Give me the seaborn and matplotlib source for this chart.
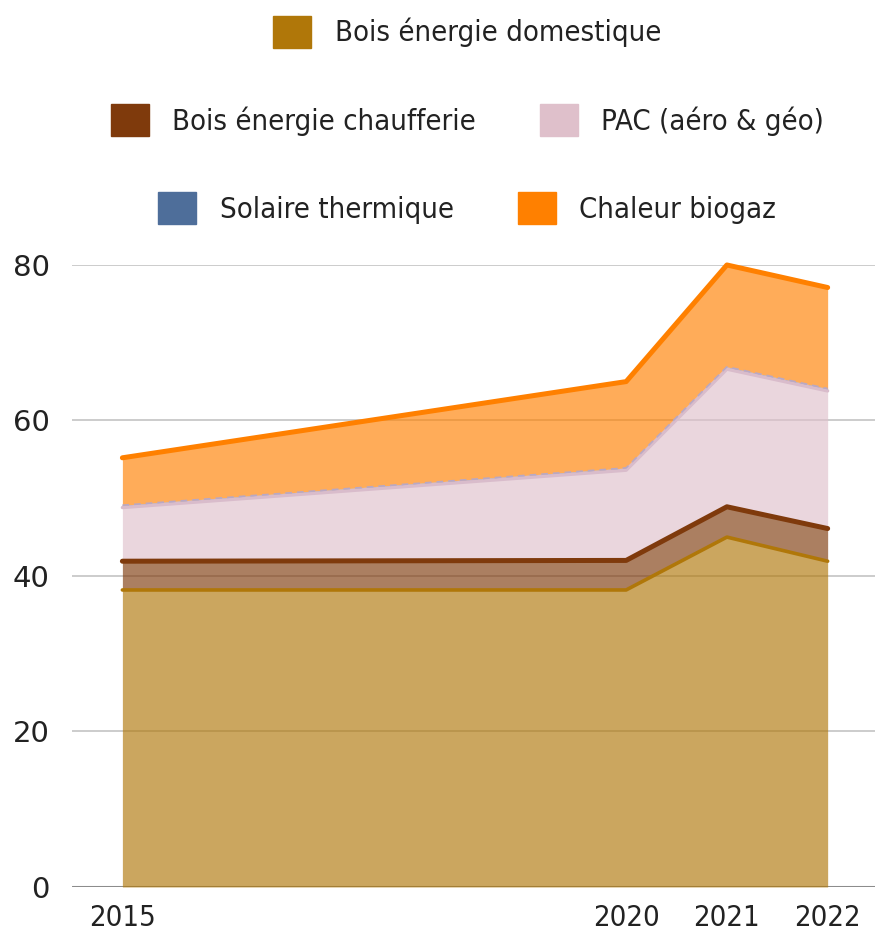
import matplotlib
matplotlib.use("Agg")
import matplotlib.pyplot as plt
from matplotlib.patches import Patch
import seaborn as sns
import pandas as pd
import numpy as np

# données (GWh)
annees = [2015, 2020, 2021, 2022]
domestique = [38.2, 38.2, 45.0, 41.9]
chaufferie = [3.7, 3.8, 3.9, 4.2]
pac = [6.9, 11.6, 17.7, 17.7]
solaire = [0.3, 0.3, 0.3, 0.3]
biogaz = [6.1, 11.1, 13.1, 13.0]

series = ["Bois énergie domestique", "Bois énergie chaufferie", "PAC (aéro & géo)",
          "Solaire thermique", "Chaleur biogaz"]
couleurs = ["#b07709", "#7f3a0c", "#dfc0cb", "#4e6e9a", "#ff8000"]
lignes = ["#b07709", "#7f3a0c", "#d9bccb", "#b9a8c4", "#ff8000"]
epaisseurs = [2.6, 3.6, 2.4, 1.2, 3.6]

sns.set_theme(style="white")
plt.rcParams['font.family'] = ['DejaVu Sans']
plt.rcParams['font.stretch'] = 'condensed'

df = pd.DataFrame({"annee": annees, series[0]: domestique, series[1]: chaufferie,
                   series[2]: pac, series[3]: solaire, series[4]: biogaz})
cumul = df[series].cumsum(axis=1)

fig = plt.figure(figsize=(8.75, 9.32), dpi=100)
ax = fig.add_axes([0.0823, 0.0483, 0.9177, 0.6674])

# grille
for y in [20, 40, 60, 80]:
    ax.axhline(y, color="#c8c8c8", lw=1.3, zorder=0)
ax.axhline(0, color="#8c8c8c", lw=2.2, zorder=0)

bas = np.zeros(len(annees))
for i, s in enumerate(series):
    haut = cumul[s].values
    ax.fill_between(annees, bas, haut, color=couleurs[i], alpha=0.65, lw=0, zorder=1)
    bas = haut

# lignes du haut de chaque couche
for i, s in enumerate(series):
    ls = (0, (4, 3)) if s == "Solaire thermique" else "-"
    sns.lineplot(x=df["annee"], y=cumul[s], ax=ax, color=lignes[i], lw=epaisseurs[i],
                 linestyle=ls, zorder=2 + i, clip_on=False)

ax.set_xlim(2014.5, 2022.47)
ax.set_ylim(0, 80)
ax.set_xticks(annees)
ax.set_yticks([0, 20, 40, 60, 80])
ax.set_xlabel("")
ax.set_ylabel("")
ax.tick_params(axis="x", labelsize=21, pad=12, length=0, colors="#222222")
ax.tick_params(axis="y", labelsize=21, pad=16, length=0, colors="#222222")
for lab in ax.get_yticklabels():
    lab.set_stretch('normal')
sns.despine(ax=ax, left=True, bottom=True, top=True, right=True)

# légende sur trois lignes
poignees = [Patch(facecolor=c, edgecolor=c, label=s) for s, c in zip(series, couleurs)]
rangs = [[0], [1, 2], [3, 4]]
ys = [0.966, 0.871, 0.777]
for r, y in zip(rangs, ys):
    fig.legend(handles=[poignees[k] for k in r], loc="center", bbox_to_anchor=(0.534, y),
               ncol=len(r), frameon=False, fontsize=21, handlelength=1.3, handleheight=1.3,
               handletextpad=0.8, columnspacing=2.2, labelcolor="#222222")

fig.savefig("out.png", dpi=100)
